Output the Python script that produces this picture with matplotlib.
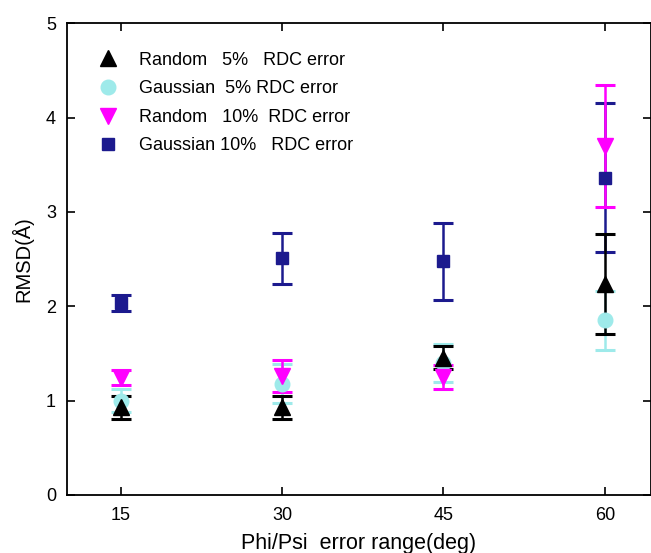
import matplotlib.pyplot as plt
from matplotlib.lines import Line2D

plt.rcParams['font.family'] = ['Liberation Sans', 'DejaVu Sans']

# Phi/Psi error range (deg)
x_vals = [15, 30, 45, 60]

# RMSD means and half-widths of the error bars
random5 = [0.93, 0.93, 1.455, 2.24]
random5_err = [0.12, 0.12, 0.125, 0.53]
gauss5 = [1.00, 1.18, 1.40, 1.85]
gauss5_err = [0.12, 0.21, 0.20, 0.31]
random10 = [1.24, 1.26, 1.25, 3.695]
random10_err = [0.08, 0.17, 0.13, 0.645]
gauss10 = [2.03, 2.51, 2.475, 3.36]
gauss10_err = [0.085, 0.27, 0.405, 0.79]

labels = ["Random   5%   RDC error",
          "Gaussian  5% RDC error",
          "Random   10%  RDC error",
          "Gaussian 10%   RDC error"]
colors = ["black", "#9eeaea", "#ff00ff", "#1c1a8e"]
markers = ["^", "o", "v", "s"]
msizes = [11.5, 10.5, 11.5, 9]

fig = plt.figure(figsize=(6.51, 5.53), dpi=100)
ax = fig.add_axes([0.103, 0.105, 0.897, 0.853])

# draw order: navy, cyan, magenta, black
series = [(gauss10, gauss10_err, 3), (gauss5, gauss5_err, 1),
          (random10, random10_err, 2), (random5, random5_err, 0)]
for vals, errs, i in series:
    ax.errorbar(x_vals, vals, yerr=errs, fmt=markers[i], color=colors[i],
                ms=msizes[i], elinewidth=1.8, capsize=7, capthick=2.2,
                mec=colors[i])

handles = [Line2D([], [], ls="none", marker=markers[i], color=colors[i],
                  ms=msizes[i]) for i in range(4)]
ax.legend(handles, labels, loc="upper left", frameon=False, fontsize=13,
          bbox_to_anchor=(0.012, 0.974), handletextpad=0.7, labelspacing=0.64)

ax.set_xlim(10, 64.3)
ax.set_ylim(0, 5)
ax.set_xticks(x_vals)
ax.set_yticks([0, 1, 2, 3, 4, 5])
ax.tick_params(direction="in", top=True, right=True, length=6, width=1.2,
               labelsize=13)
ax.tick_params(axis="x", pad=9)
ax.tick_params(axis="y", pad=8)
for sp in ax.spines.values():
    sp.set_linewidth(1.3)

ax.set_xlabel("Phi/Psi  error range(deg)", fontsize=15.5, labelpad=6)
ax.set_ylabel("RMSD(Å)", fontsize=14.5, labelpad=9)

fig.savefig("out.png", dpi=100)
